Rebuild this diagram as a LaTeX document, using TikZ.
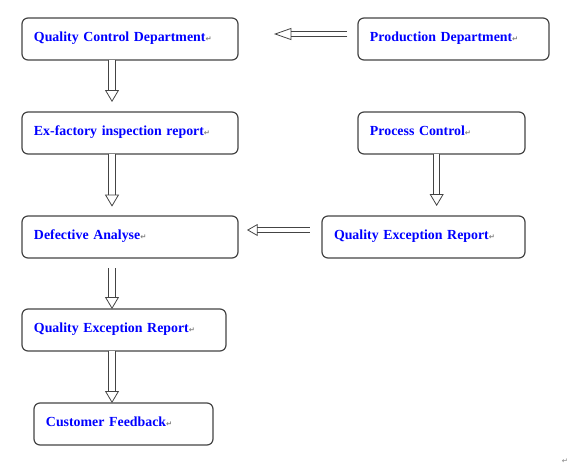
\documentclass[tikz,border=0pt]{standalone}
\usepackage{fontspec}
\setmainfont{Liberation Serif}
\newfontfamily\symfont{DejaVu Sans}
\usepackage{tikz}
\usetikzlibrary{positioning, arrows.meta}
\definecolor{qblue}{HTML}{0000FF}
\definecolor{qgray}{HTML}{444444}
\newcommand{\pmark}{{\symfont\fontsize{5.5}{6}\selectfont\color{gray}↵}}

\begin{document}
\begin{tikzpicture}[
    box/.style={rectangle, draw=qgray, line width=0.9pt, rounded corners=4.5pt, minimum height=31.5pt, inner xsep=9pt, inner ysep=1pt, outer sep=0pt, text height=7.5pt, text depth=3.7pt, align=left, text=qblue, font=\fontsize{10.4}{12}\selectfont\bfseries},
    blockarr/.style={draw=qgray, line width=0.6pt, double=white, double distance=4.2pt, -{Triangle[open, length=9pt, width=10.5pt]}},
    sidearr/.style={blockarr, double distance=2.6pt},
]
\useasboundingbox (-16.5pt,13.5pt) rectangle (423.75pt,-335.25pt);

% Boxes
\node[box, text width=144pt, anchor=north west] (qcd) at (0,0) {Quality Control Department\pmark};
\node[box, text width=125.25pt, right=90pt of qcd.north east, anchor=north west] (prod) {Production Department\pmark};
\node[box, text width=144pt, below=39pt of qcd.south west, anchor=north west] (exf) {Ex-factory inspection report\pmark};
\node[box, text width=107.25pt, below=39pt of prod.south west, anchor=north west] (proc) {Process Control\pmark};
\node[box, text width=144pt, below=46.5pt of exf.south west, anchor=north west] (defa) {Defective Analyse\pmark};
\node[box, text width=134.25pt, below=46.5pt of proc.south east, anchor=north east] (qerr) {Quality Exception Report\pmark};
\node[box, text width=135pt, below=38.25pt of defa.south west, anchor=north west] (qerl) {Quality Exception Report\pmark};
\node[box, text width=116.25pt, below=39pt of qerl.south west, anchor=north west, xshift=9pt] (cust) {Customer Feedback\pmark};
\node[inner sep=0pt] (endmark) at (407.25pt,-332.25pt) {\pmark};

% Lanes for the down arrows
\coordinate[xshift=67.5pt] (lane) at (qcd.west);
\coordinate[xshift=59pt] (lane2) at (proc.west);

% Arrows
\draw[sidearr, -{Triangle[open, length=13pt, width=9pt]}, shorten <=8pt, shorten >=27pt] ([yshift=3.75pt]prod.west) -- ([yshift=3.75pt]qcd.east);
\draw[blockarr, shorten >=7.5pt] (qcd.south -| lane) -- (exf.north -| lane);
\draw[blockarr, shorten >=7pt] (exf.south -| lane) -- (defa.north -| lane);
\draw[blockarr, shorten <=7.5pt] (defa.south -| lane) -- (qerl.north -| lane);
\draw[blockarr] (qerl.south -| lane) -- (cust.north -| lane);
\draw[blockarr, shorten >=7.5pt] (proc.south -| lane2) -- (qerr.north -| lane2);
\draw[sidearr, -{Triangle[open, length=8pt, width=9pt]}, shorten <=9pt, shorten >=6.75pt] ([yshift=5.25pt]qerr.west) -- ([yshift=5.25pt]defa.east);

\end{tikzpicture}
\end{document}
